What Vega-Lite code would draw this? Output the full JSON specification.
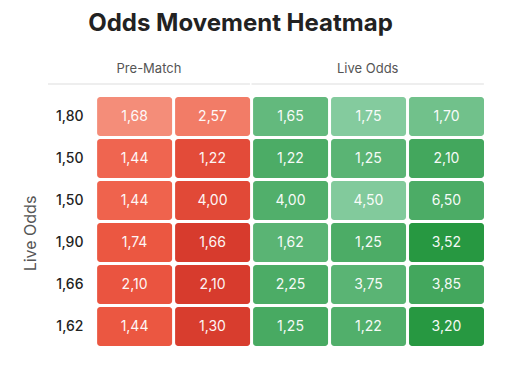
{
  "$schema": "https://vega.github.io/schema/vega-lite/v6.json",
  "width": 439,
  "height": 299,
  "autosize": "none",
  "padding": {"left": 48, "top": 50, "right": 40, "bottom": 18},
  "background": "white",
  "config": {
    "view": {"stroke": null},
    "font": "Inter",
    "locale": {"number": {"decimal": ",", "thousands": ".", "grouping": [3], "currency": ["", " €"]}}
  },
  "title": {
    "text": "Odds Movement Heatmap",
    "font": "Inter",
    "fontSize": 24,
    "fontWeight": "bold",
    "color": "#222222",
    "anchor": "middle",
    "dx": -27,
    "offset": 14
  },
  "datasets": {
    "cells": [
      {"row": 0, "col": 0, "group": "Pre-Match", "value": 1.68, "heat": 0.05},
      {"row": 0, "col": 1, "group": "Pre-Match", "value": 2.57, "heat": 0.2},
      {"row": 0, "col": 2, "group": "Live Odds", "value": 1.65, "heat": 0.35},
      {"row": 0, "col": 3, "group": "Live Odds", "value": 1.75, "heat": 0.0},
      {"row": 0, "col": 4, "group": "Live Odds", "value": 1.70, "heat": 0.2},
      {"row": 1, "col": 0, "group": "Pre-Match", "value": 1.44, "heat": 0.4},
      {"row": 1, "col": 1, "group": "Pre-Match", "value": 1.22, "heat": 0.72},
      {"row": 1, "col": 2, "group": "Live Odds", "value": 1.22, "heat": 0.6},
      {"row": 1, "col": 3, "group": "Live Odds", "value": 1.25, "heat": 0.45},
      {"row": 1, "col": 4, "group": "Live Odds", "value": 2.10, "heat": 0.7},
      {"row": 2, "col": 0, "group": "Pre-Match", "value": 1.44, "heat": 0.42},
      {"row": 2, "col": 1, "group": "Pre-Match", "value": 4.00, "heat": 0.75},
      {"row": 2, "col": 2, "group": "Live Odds", "value": 4.00, "heat": 0.55},
      {"row": 2, "col": 3, "group": "Live Odds", "value": 4.50, "heat": 0.02},
      {"row": 2, "col": 4, "group": "Live Odds", "value": 6.50, "heat": 0.6},
      {"row": 3, "col": 0, "group": "Pre-Match", "value": 1.74, "heat": 0.55},
      {"row": 3, "col": 1, "group": "Pre-Match", "value": 1.66, "heat": 0.95},
      {"row": 3, "col": 2, "group": "Live Odds", "value": 1.62, "heat": 0.45},
      {"row": 3, "col": 3, "group": "Live Odds", "value": 1.25, "heat": 0.6},
      {"row": 3, "col": 4, "group": "Live Odds", "value": 3.52, "heat": 1.0},
      {"row": 4, "col": 0, "group": "Pre-Match", "value": 2.10, "heat": 0.58},
      {"row": 4, "col": 1, "group": "Pre-Match", "value": 2.10, "heat": 0.95},
      {"row": 4, "col": 2, "group": "Live Odds", "value": 2.25, "heat": 0.6},
      {"row": 4, "col": 3, "group": "Live Odds", "value": 3.75, "heat": 0.45},
      {"row": 4, "col": 4, "group": "Live Odds", "value": 3.85, "heat": 0.7},
      {"row": 5, "col": 0, "group": "Pre-Match", "value": 1.44, "heat": 0.55},
      {"row": 5, "col": 1, "group": "Pre-Match", "value": 1.30, "heat": 0.92},
      {"row": 5, "col": 2, "group": "Live Odds", "value": 1.25, "heat": 0.65},
      {"row": 5, "col": 3, "group": "Live Odds", "value": 1.22, "heat": 0.55},
      {"row": 5, "col": 4, "group": "Live Odds", "value": 3.20, "heat": 1.0}
    ],
    "rows": [
      {"row": 0, "odds": 1.80},
      {"row": 1, "odds": 1.50},
      {"row": 2, "odds": 1.50},
      {"row": 3, "odds": 1.90},
      {"row": 4, "odds": 1.66},
      {"row": 5, "odds": 1.62}
    ],
    "headers": [
      {"group": "Pre-Match", "first": 0, "last": 1},
      {"group": "Live Odds", "first": 2, "last": 4}
    ]
  },
  "layer": [
    {
      "data": {"name": "cells"},
      "transform": [
        {"filter": "datum.group === 'Pre-Match'"},
        {"calculate": "datum.col + 1", "as": "c1"},
        {"calculate": "datum.row + 1", "as": "r1"}
      ],
      "mark": {"type": "rect", "cornerRadius": 3, "x2Offset": -3, "y2Offset": -3},
      "encoding": {
        "x": {"field": "col", "type": "quantitative", "scale": {"domain": [-0.63, 5], "nice": false, "zero": false}, "axis": null},
        "x2": {"field": "c1"},
        "y": {"field": "row", "type": "quantitative", "scale": {"domain": [-1.12, 6], "nice": false, "zero": false, "reverse": true},
          "axis": {"title": "Live Odds", "labels": false, "ticks": false, "domain": false, "grid": false, "titleFont": "Inter", "titleFontSize": 16, "titleFontWeight": "normal", "titleColor": "#555555", "titlePadding": 10, "titleY": 183}},
        "y2": {"field": "r1"},
        "color": {"field": "heat", "type": "quantitative", "scale": {"domain": [0, 0.5, 1], "range": ["#f5937f", "#ee5a44", "#d4372a"], "interpolate": "rgb"}, "legend": null}
      }
    },
    {
      "data": {"name": "cells"},
      "transform": [
        {"filter": "datum.group === 'Live Odds'"},
        {"calculate": "datum.col + 1", "as": "c1"},
        {"calculate": "datum.row + 1", "as": "r1"}
      ],
      "mark": {"type": "rect", "cornerRadius": 3, "x2Offset": -3, "y2Offset": -3},
      "encoding": {
        "x": {"field": "col", "type": "quantitative", "scale": {"domain": [-0.63, 5], "nice": false, "zero": false}, "axis": null},
        "x2": {"field": "c1"},
        "y": {"field": "row", "type": "quantitative", "scale": {"domain": [-1.12, 6], "nice": false, "zero": false, "reverse": true},
          "axis": {"title": "Live Odds", "labels": false, "ticks": false, "domain": false, "grid": false, "titleFont": "Inter", "titleFontSize": 16, "titleFontWeight": "normal", "titleColor": "#555555", "titlePadding": 10, "titleY": 183}},
        "y2": {"field": "r1"},
        "color": {"field": "heat", "type": "quantitative", "scale": {"domain": [0, 1], "range": ["#84cb9e", "#279841"], "interpolate": "rgb"}, "legend": null}
      }
    },
    {
      "data": {"name": "cells"},
      "transform": [
        {"calculate": "datum.col + 0.48", "as": "cm"},
        {"calculate": "datum.row + 0.465", "as": "rm"}
      ],
      "mark": {"type": "text", "font": "Inter", "fontSize": 14, "color": "#ffffff", "opacity": 0.95, "align": "center", "baseline": "middle"},
      "encoding": {
        "x": {"field": "cm", "type": "quantitative", "scale": {"domain": [-0.63, 5], "nice": false, "zero": false}, "axis": null},
        "y": {"field": "rm", "type": "quantitative", "scale": {"domain": [-1.12, 6], "nice": false, "zero": false, "reverse": true},
          "axis": {"title": "Live Odds", "labels": false, "ticks": false, "domain": false, "grid": false, "titleFont": "Inter", "titleFontSize": 16, "titleFontWeight": "normal", "titleColor": "#555555", "titlePadding": 10, "titleY": 183}},
        "text": {"field": "value", "type": "quantitative", "format": ".2f"}
      }
    },
    {
      "data": {"name": "rows"},
      "transform": [
        {"calculate": "datum.row + 0.465", "as": "rm"}
      ],
      "mark": {"type": "text", "font": "Inter", "fontSize": 14, "fontWeight": 500, "color": "#222222", "align": "right", "baseline": "middle"},
      "encoding": {
        "x": {"datum": -0.175, "type": "quantitative", "scale": {"domain": [-0.63, 5], "nice": false, "zero": false}, "axis": null},
        "y": {"field": "rm", "type": "quantitative", "scale": {"domain": [-1.12, 6], "nice": false, "zero": false, "reverse": true},
          "axis": {"title": "Live Odds", "labels": false, "ticks": false, "domain": false, "grid": false, "titleFont": "Inter", "titleFontSize": 16, "titleFontWeight": "normal", "titleColor": "#555555", "titlePadding": 10, "titleY": 183}},
        "text": {"field": "odds", "type": "quantitative", "format": ".2f"}
      }
    },
    {
      "data": {"name": "headers"},
      "transform": [
        {"calculate": "datum.first === 0 ? -0.63 : datum.first - 0.02", "as": "start"},
        {"calculate": "datum.last + 0.96", "as": "end"},
        {"calculate": "(datum.start + datum.end) / 2", "as": "mid"}
      ],
      "mark": {"type": "text", "font": "Inter", "fontSize": 13, "color": "#555555", "align": "center", "baseline": "middle"},
      "encoding": {
        "x": {"field": "mid", "type": "quantitative", "scale": {"domain": [-0.63, 5], "nice": false, "zero": false}, "axis": null},
        "y": {"datum": -0.668, "type": "quantitative", "scale": {"domain": [-1.12, 6], "nice": false, "zero": false, "reverse": true},
          "axis": {"title": "Live Odds", "labels": false, "ticks": false, "domain": false, "grid": false, "titleFont": "Inter", "titleFontSize": 16, "titleFontWeight": "normal", "titleColor": "#555555", "titlePadding": 10, "titleY": 183}},
        "text": {"field": "group", "type": "nominal"}
      }
    },
    {
      "data": {"name": "headers"},
      "transform": [
        {"calculate": "datum.first === 0 ? -0.63 : datum.first - 0.02", "as": "start"},
        {"calculate": "datum.last + 0.96", "as": "end"}
      ],
      "mark": {"type": "rule", "color": "#dddddd", "strokeWidth": 1},
      "encoding": {
        "x": {"field": "start", "type": "quantitative", "scale": {"domain": [-0.63, 5], "nice": false, "zero": false}, "axis": null},
        "x2": {"field": "end"},
        "y": {"datum": -0.31, "type": "quantitative", "scale": {"domain": [-1.12, 6], "nice": false, "zero": false, "reverse": true},
          "axis": {"title": "Live Odds", "labels": false, "ticks": false, "domain": false, "grid": false, "titleFont": "Inter", "titleFontSize": 16, "titleFontWeight": "normal", "titleColor": "#555555", "titlePadding": 10, "titleY": 183}}
      }
    }
  ],
  "resolve": {"scale": {"color": "independent"}}
}
